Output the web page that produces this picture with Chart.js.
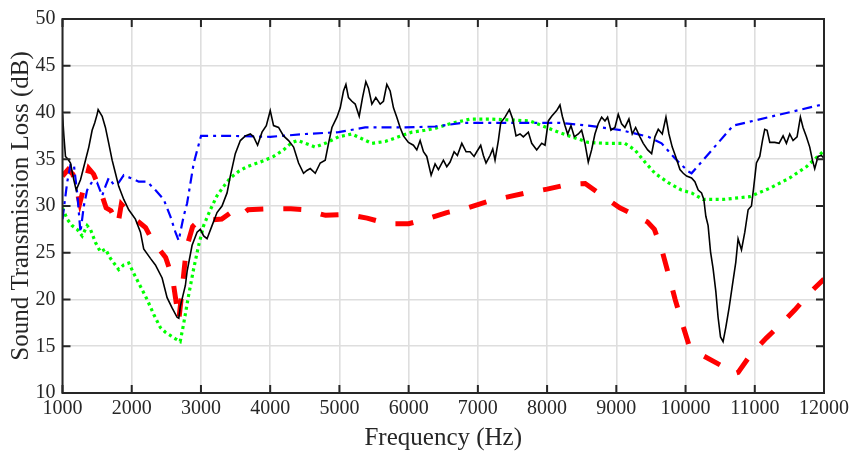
<!DOCTYPE html>
<html>
<head>
<meta charset="utf-8">
<script src="https://cdn.jsdelivr.net/npm/chart.js@4.4.1/dist/chart.umd.min.js"></script>
<style>
  html, body { margin: 0; padding: 0; background: #ffffff; }
  #wrap { width: 853px; height: 454px; }
</style>
</head>
<body>
<div id="wrap"><canvas id="stl" width="853" height="454"></canvas></div>
<script>
// Axis ranges and tick values
const freqTicks = [1000, 2000, 3000, 4000, 5000, 6000, 7000, 8000, 9000, 10000, 11000, 12000];
const lossTicks = [10, 15, 20, 25, 30, 35, 40, 45, 50];

// Measured curve (black, solid)
const freqMeasured = [1000,1020,1043,1080,1115,1163,1198,1260,1332,1380,1428,1466,1500,1515,1573,1620,1668,1717,1765,1812,1885,1957,2053,2126,2173,2270,2342,2439,2511,2583,2655,2680,2703,2775,2800,2872,2944,2991,3039,3088,3160,3232,3304,3377,3424,3496,3569,3641,3713,3761,3818,3882,3944,4001,4049,4121,4193,4266,4338,4410,4482,4530,4579,4651,4723,4795,4843,4892,4964,5012,5059,5094,5131,5180,5228,5286,5334,5382,5420,5469,5526,5589,5636,5685,5733,5781,5829,5877,5925,5997,6069,6118,6166,6214,6262,6325,6382,6430,6502,6551,6599,6657,6704,6768,6830,6887,6945,6984,7041,7080,7118,7176,7215,7248,7296,7330,7392,7455,7503,7551,7609,7657,7729,7778,7850,7922,7970,8018,8066,8138,8186,8220,8258,8297,8345,8393,8451,8499,8547,8595,8643,8691,8739,8788,8836,8874,8922,8980,9028,9076,9124,9182,9230,9279,9341,9389,9453,9510,9558,9606,9664,9717,9760,9808,9857,9919,9967,10015,10087,10135,10183,10231,10264,10293,10326,10361,10398,10437,10470,10505,10542,10581,10629,10678,10726,10759,10808,10856,10904,10952,10986,11024,11072,11111,11144,11178,11217,11289,11351,11409,11457,11505,11553,11611,11659,11697,11746,11794,11833,11866,11914,11962,12000];
const lossMeasured = [39.8,37.5,35.3,35.0,34.6,32.8,31.7,32.8,34.9,36.3,38.1,38.9,39.8,40.3,39.6,38.4,36.7,34.9,33.5,32.1,30.7,29.6,28.6,27.2,25.4,24.4,23.7,22.3,20.2,19.1,18.1,18.0,19.3,21.5,23.0,25.8,27.2,27.5,26.8,26.5,27.9,29.3,30.0,31.4,33.2,35.6,37.0,37.5,37.7,37.4,36.5,37.9,38.6,40.2,38.6,38.4,37.5,37.0,36.3,34.6,33.5,33.8,34.0,33.5,34.6,34.9,36.7,38.4,39.5,40.5,42.3,43.0,41.6,41.2,40.9,39.6,41.6,43.3,42.6,40.9,41.6,40.9,41.2,43.0,42.3,40.5,39.5,38.4,37.5,36.8,36.5,36.0,37.0,35.8,35.3,33.3,34.5,33.9,34.9,34.2,34.7,35.8,35.4,36.7,35.8,35.8,35.3,35.8,36.5,35.4,34.6,35.4,36.1,34.9,37.0,38.9,39.5,40.3,39.3,37.5,37.7,37.4,37.9,36.7,36.0,36.7,36.5,39.1,39.6,40.2,40.8,39.6,38.6,37.7,38.6,37.4,37.7,38.1,36.7,34.7,36.0,37.7,38.8,39.5,39.1,39.5,38.1,38.4,39.8,38.8,38.4,39.3,37.7,38.4,37.4,36.7,36.0,35.6,37.4,38.2,37.7,39.5,37.7,36.3,35.3,33.9,33.5,33.2,33.0,32.6,31.7,31.4,30.7,28.9,27.9,25.1,23.3,20.9,18.1,16.0,15.5,17.0,19.1,21.6,24.0,26.5,25.3,27.2,29.6,30.0,32.1,34.6,35.3,37.0,38.2,38.1,36.8,36.8,36.7,37.5,36.7,37.7,37.0,37.4,39.5,38.4,37.4,36.3,34.9,34.0,35.3,35.4,35.1];

// Model A (blue, dash-dot)
const freqModelA = [1000,1067,1115,1163,1212,1260,1308,1356,1428,1500,1573,1620,1668,1740,1812,1885,1981,2101,2222,2342,2462,2558,2631,2678,2750,2800,2896,3001,3424,4001,4507,4988,5372,5950,6382,6792,7239,7753,8186,8595,9076,9462,9654,9846,10039,10087,10688,12000];
const lossModelA = [28.6,32.5,34.4,34.5,31.4,27.2,30.0,31.7,32.6,32.5,31.1,32.1,33.0,32.3,32.5,33.3,33.0,32.6,32.6,31.7,30.7,28.9,27.2,26.3,28.9,30.3,34.6,37.5,37.5,37.4,37.7,37.9,38.4,38.4,38.5,38.9,38.9,38.9,38.9,38.6,38.1,37.4,36.7,35.1,33.7,33.5,38.6,40.9];

// Model B (green, dotted)
const freqModelB = [1000,1067,1139,1212,1284,1356,1404,1476,1548,1620,1693,1812,1885,1957,2029,2126,2222,2318,2414,2486,2631,2700,2750,2823,2895,2967,3039,3136,3232,3328,3424,3544,3665,3857,4049,4193,4314,4400,4507,4651,4795,4988,5180,5324,5469,5661,5853,6046,6238,6382,6599,6887,7176,7464,7753,7994,8162,8355,8595,8836,9124,9268,9413,9558,9750,9942,10087,10254,10542,10928,11217,11505,11746,12000];
const lossModelB = [29.8,28.6,27.9,27.5,26.8,27.9,27.5,26.1,25.1,25.4,24.4,23.2,23.7,23.9,22.8,21.4,20.0,18.4,17.0,16.5,15.8,15.5,17.4,20.5,23.3,25.8,27.9,29.6,31.1,32.1,33.0,33.7,34.2,34.7,35.3,36.0,36.8,37.0,36.7,36.3,36.7,37.4,37.7,37.2,36.7,36.9,37.4,37.9,38.1,38.3,38.8,39.3,39.3,39.2,39.1,38.4,37.9,37.4,36.8,36.7,36.7,36.0,34.7,33.5,32.5,31.7,31.4,30.7,30.7,31.0,31.9,33.0,34.2,35.9];

// Model C (red, thick dashed)
const freqModelC = [1000,1080,1150,1250,1380,1450,1550,1630,1700,1800,1850,2050,2200,2300,2490,2590,2680,2720,2790,2880,2950,3100,3300,3450,3560,3680,4000,4300,4500,4800,5100,5400,5700,6000,6250,6550,6850,7150,7450,7700,8000,8300,8550,8800,9050,9300,9450,9550,9650,9750,9850,9950,10050,10250,10500,10680,10760,10950,11170,11370,11580,11780,12000];
const lossModelC = [33.2,33.9,33.4,30.3,34.0,33.4,31.6,29.8,29.5,28.0,30.2,28.6,27.7,26.3,24.5,22.3,17.8,20.5,25.5,27.8,28.3,28.5,28.6,29.4,28.9,29.6,29.7,29.7,29.6,29.0,29.1,28.7,28.1,28.1,28.6,29.3,29.8,30.5,31.0,31.4,31.8,32.3,32.4,31.1,29.8,28.9,28.3,27.5,25.5,22.8,20.0,17.5,15.1,14.0,13.0,12.0,12.2,14.2,15.9,17.3,18.9,20.6,22.2];

const toPoints = (xs, ys) => xs.map((x, i) => ({ x: x, y: ys[i] }));

const AXIS_COLOR = '#262626';
const GRID_COLOR = '#dedede';
const SERIF = '"Liberation Serif", "Times New Roman", serif';

// Frame around the plot area with inward tick marks on all four sides
const framePlugin = {
  id: 'frame',
  afterDatasetsDraw(chart) {
    const { ctx, chartArea: a, scales } = chart;
    const len = 8;
    ctx.save();
    ctx.strokeStyle = AXIS_COLOR;
    ctx.lineWidth = 2;
    ctx.beginPath();
    freqTicks.forEach(f => {
      const px = scales.x.getPixelForValue(f);
      ctx.moveTo(px, a.bottom); ctx.lineTo(px, a.bottom - len);
      ctx.moveTo(px, a.top); ctx.lineTo(px, a.top + len);
    });
    lossTicks.forEach(v => {
      const py = scales.y.getPixelForValue(v);
      ctx.moveTo(a.left, py); ctx.lineTo(a.left + len, py);
      ctx.moveTo(a.right, py); ctx.lineTo(a.right - len, py);
    });
    ctx.stroke();
    ctx.strokeRect(a.left, a.top, a.right - a.left, a.bottom - a.top);
    ctx.restore();
  }
};

new Chart(document.getElementById('stl'), {
  type: 'line',
  data: {
    datasets: [
      { label: 'Measured', data: toPoints(freqMeasured, lossMeasured), borderColor: '#000000', borderWidth: 1.6, order: 0 },
      { label: 'Model A', data: toPoints(freqModelA, lossModelA), borderColor: '#0000ff', borderWidth: 2.2, borderDash: [10, 5, 3, 5], order: 1 },
      { label: 'Model B', data: toPoints(freqModelB, lossModelB), borderColor: '#00ff00', borderWidth: 3.2, borderDash: [3, 3.5], order: 2 },
      { label: 'Model C', data: toPoints(freqModelC, lossModelC), borderColor: '#ff0000', borderWidth: 5, borderDash: [18, 20], order: 3 }
    ]
  },
  options: {
    responsive: false,
    animation: false,
    events: [],
    elements: { point: { radius: 0 }, line: { tension: 0, fill: false, borderCapStyle: 'butt', borderJoinStyle: 'miter' } },
    layout: { padding: { top: 13, right: 28, bottom: 0, left: 0 } },
    plugins: { legend: { display: false }, tooltip: { enabled: false } },
    scales: {
      x: {
        type: 'linear',
        min: 1000, max: 12000,
        afterBuildTicks: s => { s.ticks = freqTicks.map(v => ({ value: v })); },
        afterFit: s => { s.height = 61; },
        grid: { color: GRID_COLOR, lineWidth: 1.6, drawTicks: false },
        border: { display: false },
        ticks: { color: AXIS_COLOR, padding: 4, maxRotation: 0, autoSkip: false, font: { family: SERIF, size: 20 }, callback: v => String(v) },
        title: { display: true, text: 'Frequency (Hz)', color: AXIS_COLOR, font: { family: SERIF, size: 25 }, padding: { top: 0, bottom: 1 } }
      },
      y: {
        type: 'linear',
        min: 10, max: 50,
        afterBuildTicks: s => { s.ticks = lossTicks.map(v => ({ value: v })); },
        afterFit: s => { s.width = 62.5; },
        grid: { color: GRID_COLOR, lineWidth: 1.6, drawTicks: false },
        border: { display: false },
        ticks: { color: AXIS_COLOR, padding: 7, autoSkip: false, font: { family: SERIF, size: 20 }, callback: v => String(v) },
        title: { display: true, text: 'Sound Transmission Loss (dB)', color: AXIS_COLOR, font: { family: SERIF, size: 25 }, padding: { top: 6, bottom: 0 } }
      }
    }
  },
  plugins: [framePlugin]
});
</script>
</body>
</html>
